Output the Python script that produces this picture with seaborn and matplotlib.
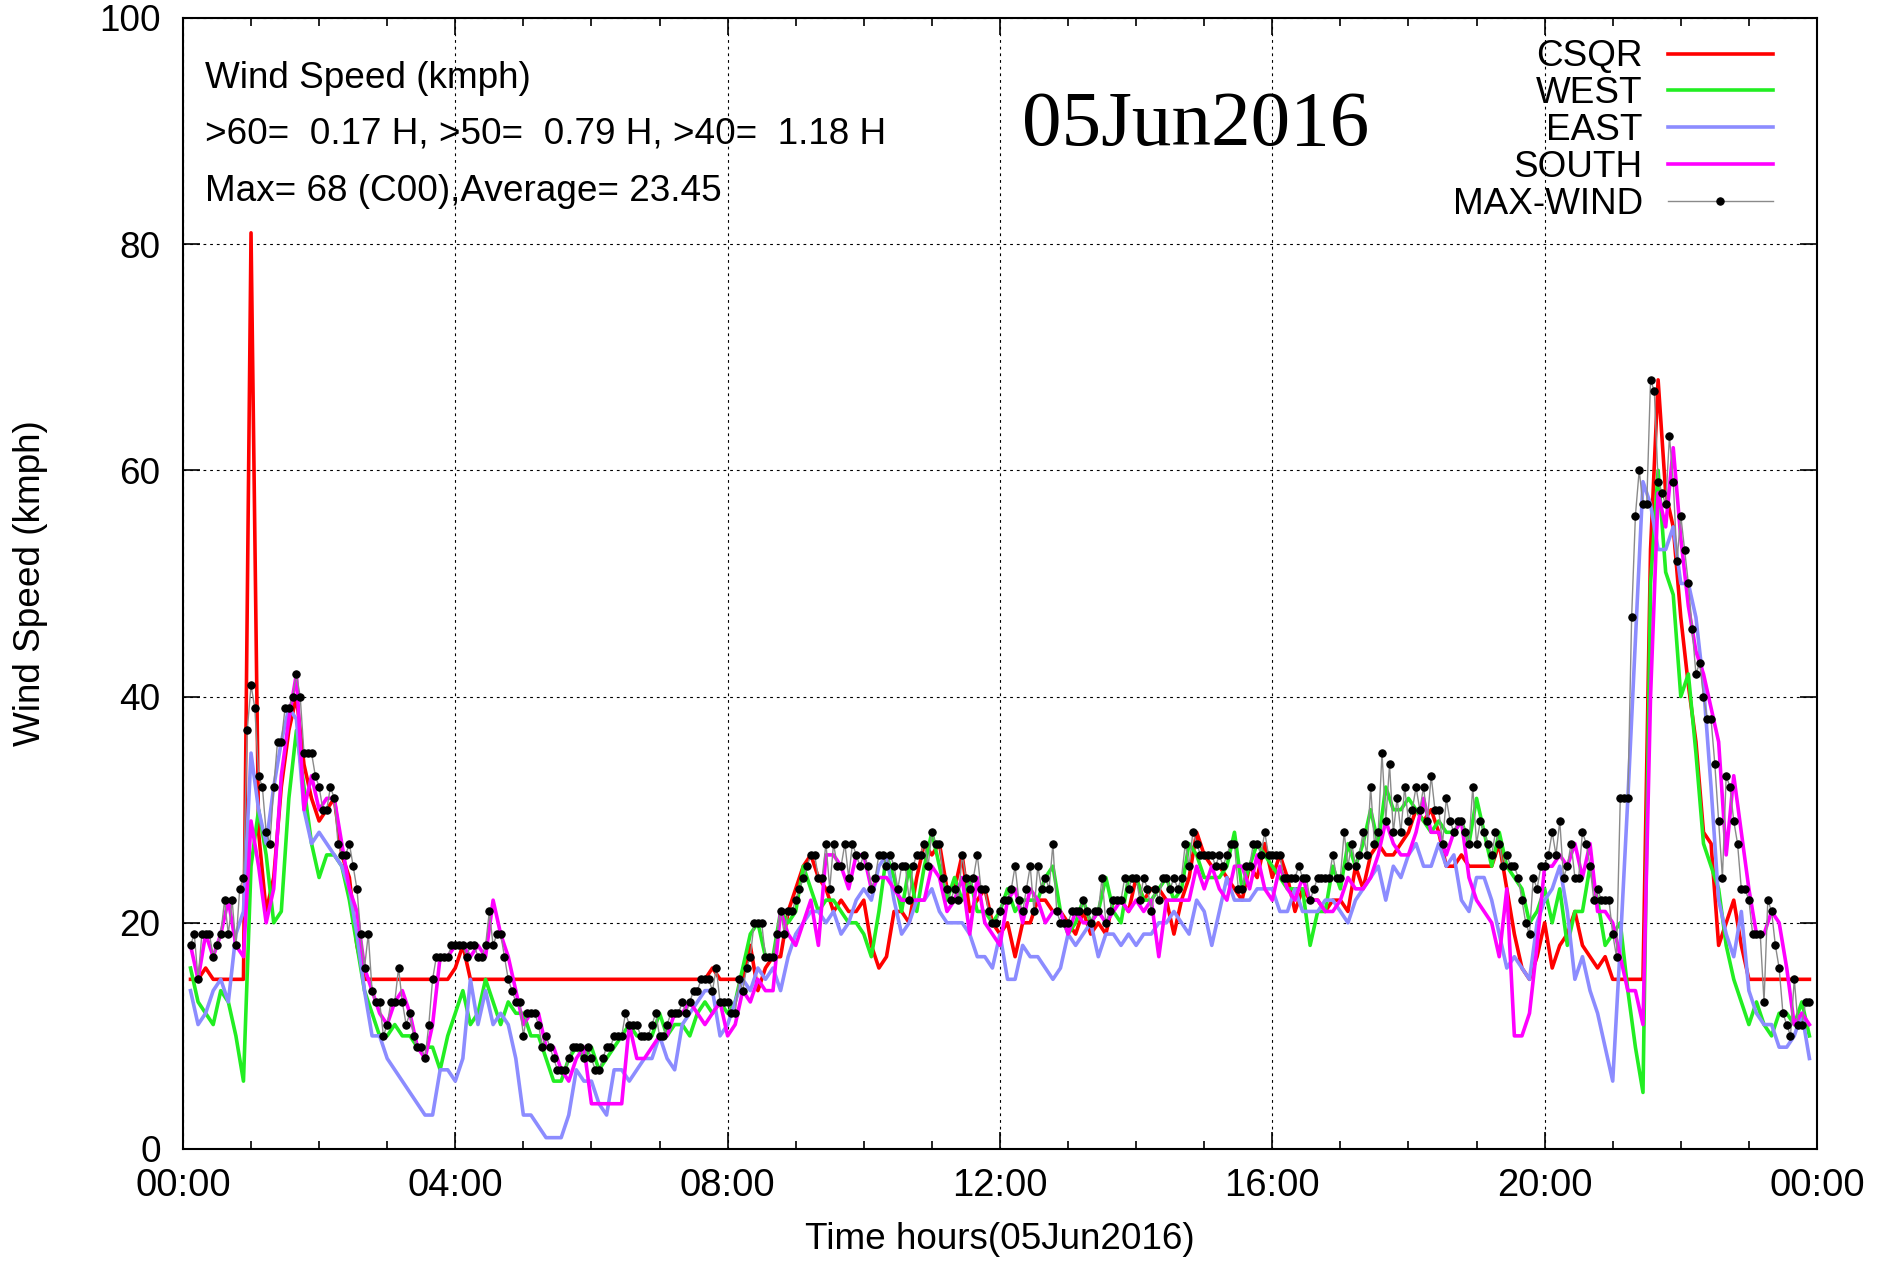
import numpy as np
import matplotlib
matplotlib.use("Agg")
import matplotlib.pyplot as plt
import seaborn as sns
from matplotlib.ticker import MultipleLocator

# station readings, one sample every 400 s (9 per hour), 4-hour blocks per row group
csqr = [
    15, 15, 16, 15, 15, 15, 15, 15, 81, 28, 21, 24, 32, 37, 40, 34, 31, 29, 30, 31,
    26, 24, 18, 15, 15, 15, 15, 15, 15, 15, 15, 15, 15, 15, 15,
    16, 18, 15, 15, 15, 15, 15, 15, 15, 15, 15, 15, 15, 15, 15, 15, 15, 15, 15, 15,
    15, 15, 15, 15, 15, 15, 15, 15, 15, 15, 15, 15, 15, 15, 16, 15,
    15, 15, 15, 18, 14, 16, 17, 17, 21, 23, 25, 26, 24, 23, 21, 22, 21, 21, 22, 18,
    16, 17, 21, 21, 20, 24, 27, 26, 27, 23, 23, 26, 21, 22, 23, 20,
    19, 20, 17, 20, 20, 22, 22, 21, 21, 20, 19, 21, 19, 20, 19, 22, 22, 21, 24, 22,
    23, 23, 22, 19, 22, 24, 28, 26, 25, 25, 24, 23, 22, 25, 24, 27,
    24, 26, 24, 21, 23, 22, 22, 21, 22, 22, 21, 25, 23, 26, 27, 26, 26, 27, 28, 30,
    29, 30, 28, 25, 25, 26, 25, 25, 25, 25, 27, 23, 19, 16, 15, 17,
    20, 16, 18, 19, 21, 18, 17, 16, 17, 15, 15, 15, 15, 15, 53, 68, 58, 55, 47, 41,
    36, 28, 27, 18, 20, 22, 18, 15, 15, 15, 15, 15, 15, 15, 15, 15,
]
west = [
    16, 13, 12, 11, 14, 13, 10, 6, 25, 30, 26, 20, 21, 31, 37, 32, 27, 24, 26, 26,
    25, 22, 18, 14, 12, 10, 10, 11, 10, 10, 9, 9, 9, 7, 10,
    12, 14, 11, 12, 15, 13, 11, 13, 12, 12, 10, 10, 8, 6, 6, 8, 9, 8, 9, 7,
    8, 9, 10, 11, 10, 10, 10, 12, 10, 11, 11, 10, 12, 13, 12, 13,
    12, 13, 16, 19, 20, 17, 17, 21, 20, 21, 25, 23, 21, 22, 22, 21, 20, 20, 19, 17,
    21, 26, 24, 21, 25, 21, 25, 28, 25, 22, 24, 22, 24, 21, 21, 20,
    21, 23, 21, 22, 22, 22, 24, 25, 21, 19, 20, 22, 20, 21, 24, 21, 20, 24, 24, 22,
    22, 23, 24, 22, 23, 27, 26, 24, 24, 24, 25, 28, 23, 25, 27, 26,
    25, 24, 23, 23, 23, 18, 21, 21, 25, 23, 27, 25, 27, 30, 27, 32, 30, 30, 31, 30,
    29, 28, 29, 28, 28, 29, 27, 31, 28, 25, 28, 25, 24, 23, 20, 21,
    23, 20, 23, 18, 21, 21, 25, 22, 18, 19, 20, 14, 9, 5, 50, 60, 51, 49, 40, 42,
    35, 27, 25, 23, 18, 15, 13, 11, 13, 11, 10, 12, 12, 11, 13, 10,
]
east = [
    14, 11, 12, 14, 15, 13, 19, 21, 35, 30, 27, 32, 36, 39, 38, 30, 27, 28, 27, 26,
    25, 23, 19, 14, 10, 10, 8, 7, 6, 5, 4, 3, 3, 7, 7,
    6, 8, 15, 11, 14, 11, 12, 11, 8, 3, 3, 2, 1, 1, 1, 3, 7, 6, 6, 4,
    3, 7, 7, 6, 7, 8, 8, 10, 8, 7, 11, 12, 13, 14, 14, 10,
    11, 13, 15, 14, 16, 15, 16, 14, 17, 19, 20, 21, 21, 20, 21, 19, 20, 22, 23, 22,
    25, 26, 22, 19, 20, 22, 22, 23, 21, 20, 20, 20, 19, 17, 17, 16,
    19, 15, 15, 18, 17, 17, 16, 15, 16, 19, 18, 19, 20, 17, 19, 19, 18, 19, 18, 19,
    19, 20, 20, 21, 20, 19, 22, 21, 18, 21, 24, 22, 22, 22, 23, 23,
    23, 21, 21, 23, 21, 21, 21, 22, 22, 21, 20, 22, 23, 24, 25, 22, 25, 24, 26, 27,
    25, 25, 27, 25, 26, 22, 21, 24, 24, 22, 19, 16, 17, 16, 15, 20,
    22, 23, 25, 21, 15, 17, 14, 12, 9, 6, 18, 31, 45, 59, 57, 53, 53, 55, 50, 50,
    47, 41, 32, 22, 19, 17, 21, 14, 12, 11, 11, 9, 9, 10, 12, 8,
]
south = [
    18, 15, 19, 17, 19, 22, 18, 17, 29, 25, 20, 23, 33, 38, 42, 30, 33, 30, 31, 31,
    27, 23, 21, 16, 14, 12, 11, 13, 14, 12, 9, 8, 11, 17, 17,
    18, 18, 17, 18, 17, 22, 19, 17, 14, 11, 12, 12, 9, 9, 7, 6, 8, 9, 4, 4,
    4, 4, 4, 11, 8, 8, 9, 10, 10, 12, 12, 13, 12, 11, 12, 13,
    10, 11, 14, 13, 15, 14, 14, 21, 19, 18, 20, 22, 18, 26, 26, 25, 23, 26, 26, 23,
    24, 24, 23, 22, 22, 22, 22, 25, 24, 21, 22, 24, 19, 24, 20, 19,
    18, 22, 23, 20, 23, 22, 20, 21, 21, 19, 21, 20, 20, 21, 20, 21, 22, 21, 22, 21,
    22, 17, 22, 22, 22, 22, 25, 23, 25, 23, 22, 25, 25, 23, 26, 23,
    22, 25, 23, 22, 24, 22, 22, 21, 21, 22, 24, 23, 23, 24, 26, 29, 27, 26, 26, 28,
    31, 28, 28, 26, 28, 29, 24, 22, 21, 20, 17, 23, 10, 10, 12, 18,
    25, 25, 26, 25, 27, 24, 27, 21, 21, 20, 17, 14, 14, 11, 40, 58, 55, 62, 54, 48,
    44, 42, 39, 36, 26, 33, 28, 23, 19, 19, 21, 20, 16, 11, 12, 11,
]
# max wind, one sample every 200 s (18 per hour)
max_wind = [
    18, 19, 15, 19, 19, 19, 17, 18, 19, 22, 19, 22, 18, 23, 24, 37, 41, 39, 33, 32,
    28, 27, 32, 36, 36, 39, 39, 40, 42, 40, 35, 35, 35, 33, 32, 30, 30, 32, 31, 27,
    26, 26, 27, 25, 23, 19, 16, 19, 14, 13, 13, 10, 11, 13, 13, 16, 13, 11, 12, 10,
    9, 9, 8, 11, 15, 17, 17, 17, 17, 18,
    18, 18, 18, 17, 18, 18, 17, 17, 18, 21, 18, 19, 19, 17, 15, 14, 13, 13, 10, 12,
    12, 12, 11, 9, 10, 9, 8, 7, 7, 7, 8, 9, 9, 9, 8, 9, 8, 7, 7, 8,
    9, 9, 10, 10, 10, 12, 11, 11, 11, 10, 10, 10, 11, 12, 10, 10, 11, 12, 12, 12,
    13, 12, 13, 14, 14, 15, 15, 15, 14, 16, 13, 13,
    13, 12, 12, 15, 14, 16, 17, 20, 20, 20, 17, 17, 17, 19, 21, 19, 21, 21, 22, 23,
    24, 25, 26, 26, 24, 24, 27, 23, 27, 25, 25, 27, 24, 27, 26, 25, 26, 25, 23, 24,
    26, 26, 25, 26, 25, 23, 25, 25, 22, 25, 26, 26, 27, 25, 28, 27, 27, 24, 23, 22,
    23, 22, 26, 24, 23, 24, 26, 23, 23, 21, 20, 20,
    21, 22, 22, 23, 25, 22, 21, 23, 25, 21, 25, 23, 24, 23, 27, 21, 20, 20, 20, 21,
    21, 21, 22, 21, 20, 21, 21, 24, 20, 21, 22, 22, 22, 24, 23, 24, 24, 22, 24, 23,
    21, 23, 22, 24, 24, 23, 24, 23, 24, 27, 25, 28, 27, 26, 26, 26, 26, 25, 26, 25,
    26, 27, 27, 23, 23, 25, 25, 27, 27, 26, 28, 26,
    26, 26, 26, 24, 24, 24, 24, 25, 24, 24, 22, 23, 24, 24, 24, 24, 26, 24, 24, 28,
    25, 27, 25, 26, 28, 26, 32, 27, 28, 35, 29, 34, 28, 31, 28, 32, 29, 30, 32, 30,
    32, 29, 33, 30, 30, 27, 31, 29, 28, 29, 29, 28, 27, 32, 27, 29, 28, 27, 26, 28,
    27, 25, 26, 25, 25, 24, 22, 20, 19, 24, 23, 25,
    25, 26, 28, 26, 29, 24, 25, 27, 24, 24, 28, 27, 25, 22, 23, 22, 22, 22, 19, 17,
    31, 31, 31, 47, 56, 60, 57, 57, 68, 67, 59, 58, 57, 63, 59, 52, 56, 53, 50, 46,
    42, 43, 40, 38, 38, 34, 29, 24, 33, 32, 29, 27, 23, 23, 22, 19, 19, 19, 13, 22,
    21, 18, 16, 12, 11, 10, 15, 11, 11, 13, 13,
]

line_hours = np.arange(1, len(csqr) + 1) / 9
max_hours = np.arange(2, len(max_wind) + 2) / 18

hour_ticks = [0, 4, 8, 12, 16, 20, 24]
hour_labels = ['00:00', '04:00', '08:00', '12:00', '16:00', '20:00', '00:00']
speed_ticks = [0, 20, 40, 60, 80, 100]

plt.rcParams['font.family'] = ['Liberation Sans', 'DejaVu Sans']
fs = 26.6

fig = plt.figure(figsize=(18.86, 12.64), dpi=100)
ax = fig.add_axes([0.0970, 0.0910, 0.8664, 0.8948])

series = [('CSQR', csqr, '#ff0000'),
          ('WEST', west, '#22ee22'),
          ('EAST', east, '#8c8cff'),
          ('SOUTH', south, '#ff00ff')]
for name, vals, col in series:
    sns.lineplot(x=line_hours, y=vals, color=col, lw=2.6, estimator=None,
                 label=name, ax=ax)
sns.lineplot(x=max_hours, y=max_wind, color='#8a8a8a', lw=1.0, marker='o',
             ms=5.3, mfc='black', mec='black', estimator=None,
             label='MAX-WIND', ax=ax)

ax.set_xlim(0, 24)
ax.set_ylim(0, 100)
ax.set_xticks(hour_ticks)
ax.set_xticklabels(hour_labels)
ax.xaxis.set_minor_locator(MultipleLocator(1))
ax.set_yticks(speed_ticks)
ax.tick_params(which='both', direction='in', top=True, right=True,
               bottom=True, left=True, labelsize=fs, colors='black', width=1.2)
ax.tick_params(axis='x', labelsize=27.5)
ax.tick_params(which='major', length=12)
ax.tick_params(which='minor', length=6)
ax.tick_params(axis='x', which='major', pad=14)
ax.tick_params(axis='y', which='major', pad=16)
ax.grid(True, which='major', color='black', lw=0.8, ls=(0, (2.5, 3.5)))
for s in ax.spines.values():
    s.set_linewidth(1.5)
    s.set_color('black')

ax.set_xlabel('Time hours(05Jun2016)', fontsize=fs)
ax.xaxis.set_label_coords(0.5, -0.0645)
ax.set_ylabel('Wind Speed (kmph)', fontsize=fs)
ax.yaxis.set_label_coords(-0.0825, 0.5)

ax.text(0.0132, 0.9381, 'Wind Speed (kmph)', fontsize=fs, va='baseline',
        transform=ax.transAxes)
ax.text(0.0132, 0.8890, '>60=  0.17 H, >50=  0.79 H, >40=  1.18 H', fontsize=fs,
        va='baseline', transform=ax.transAxes)
ax.text(0.0132, 0.8382, 'Max= 68 (C00),Average= 23.45', fontsize=fs,
        va='baseline', transform=ax.transAxes)
ax.text(0.62, 0.8877, '05Jun2016', family=['Liberation Serif', 'DejaVu Serif'],
        fontsize=57, ha='center', va='baseline', transform=ax.transAxes)

handles, labels = ax.get_legend_handles_labels()
ax.legend(handles, labels, loc='upper right', bbox_to_anchor=(0.973, 0.981),
          frameon=False, markerfirst=False, fontsize=fs, handlelength=2.84,
          handletextpad=0.68, labelspacing=0.05, borderpad=0, borderaxespad=0,
          numpoints=1)

fig.savefig('out.png', dpi=100)
